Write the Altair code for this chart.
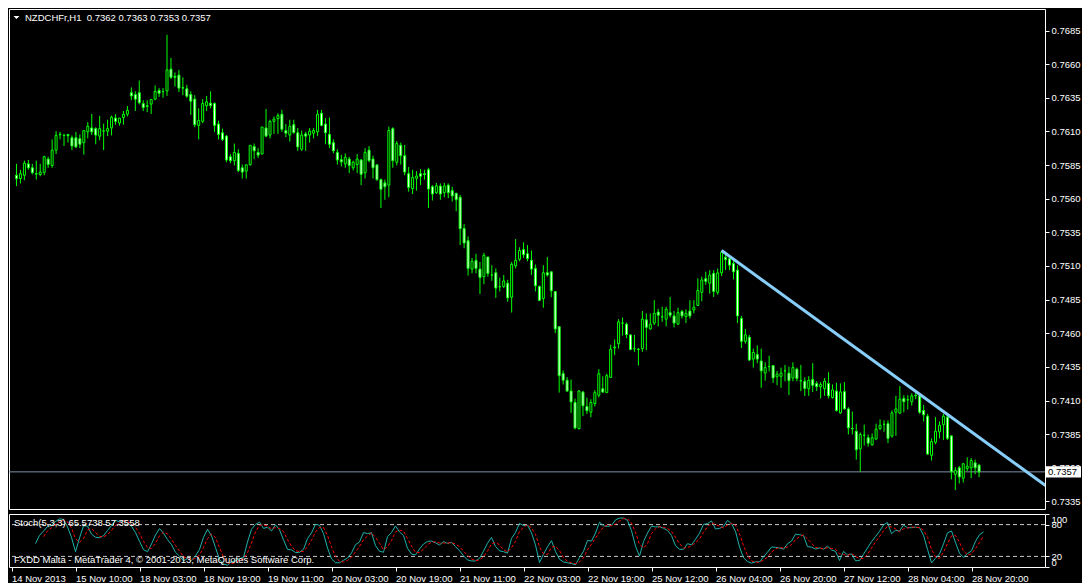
import altair as alt
import pandas as pd

symbol = "NZDCHFr,H1"

open_ = [
    0.75774, 0.75750, 0.75774, 0.75859, 0.75830, 0.75786, 0.75780, 0.75796, 0.75895, 0.75847,
    0.75961, 0.76075, 0.76070, 0.76078, 0.76053, 0.76053, 0.76046, 0.76017, 0.76097, 0.76126,
    0.76121, 0.76065, 0.76102, 0.76102, 0.76126, 0.76199, 0.76163, 0.76204, 0.76228, 0.76388,
    0.76374, 0.76388, 0.76308, 0.76291, 0.76303, 0.76340, 0.76405, 0.76396, 0.76401, 0.76563,
    0.76510, 0.76519, 0.76425, 0.76417, 0.76374, 0.76340, 0.76145, 0.76175, 0.76291, 0.76310,
    0.76308, 0.76155, 0.76090, 0.76065, 0.75912, 0.75883, 0.75937, 0.75830, 0.75805, 0.75852,
    0.75988, 0.75944, 0.75932, 0.76126, 0.76073, 0.76175, 0.76194, 0.76228, 0.76107, 0.76073,
    0.76150, 0.76090, 0.75968, 0.76082, 0.76073, 0.76087, 0.76097, 0.76235, 0.76155, 0.76078,
    0.76017, 0.75944, 0.75890, 0.75859, 0.75895, 0.75830, 0.75854, 0.75888, 0.75793, 0.75961,
    0.75895, 0.75852, 0.75742, 0.75718, 0.75701, 0.76121, 0.75871, 0.75997, 0.75920, 0.75786,
    0.75675, 0.75752, 0.75786, 0.75786, 0.75815, 0.75689, 0.75645, 0.75694, 0.75645, 0.75701,
    0.75660, 0.75640, 0.75611, 0.75378, 0.75288, 0.75077, 0.75142, 0.75077, 0.75021, 0.75167,
    0.75033, 0.75050, 0.74946, 0.74948, 0.74972, 0.74868, 0.75101, 0.75150, 0.75222, 0.75191,
    0.75142, 0.75082, 0.74948, 0.74858, 0.75050, 0.75057, 0.74911, 0.74649, 0.74300, 0.74251,
    0.74171, 0.74086, 0.73891, 0.74163, 0.74056, 0.74013, 0.74078, 0.74139, 0.74188, 0.74159,
    0.74272, 0.74491, 0.74523, 0.74675, 0.74668, 0.74588, 0.74486, 0.74481, 0.74486, 0.74700,
    0.74632, 0.74676, 0.74758, 0.74722, 0.74705, 0.74753, 0.74729, 0.74668, 0.74763, 0.74724,
    0.74765, 0.74773, 0.74807, 0.74904, 0.75006, 0.74972, 0.75045, 0.74904, 0.75049, 0.75165,
    0.75154, 0.75118, 0.75069, 0.74710, 0.74540, 0.74571, 0.74408, 0.74442, 0.74394, 0.74304,
    0.74353, 0.74360, 0.74277, 0.74280, 0.74321, 0.74304, 0.74268, 0.74333, 0.74248, 0.74243,
    0.74188, 0.74256, 0.74227, 0.74203, 0.74188, 0.74227, 0.74123, 0.74171, 0.74008, 0.74166,
    0.74038, 0.73892, 0.73872, 0.73741, 0.73843, 0.73824, 0.73770, 0.73814, 0.73892, 0.73923,
    0.73928, 0.73836, 0.74013, 0.74006, 0.74115, 0.74106, 0.74091, 0.74139, 0.74135, 0.74026,
    0.73984, 0.73693, 0.73790, 0.73868, 0.73921, 0.73977, 0.73838, 0.73552, 0.73600, 0.73523,
    0.73595, 0.73600, 0.73637, 0.73620,
]

high_ = [
    0.75859, 0.75815, 0.75883, 0.75888, 0.75859, 0.75883, 0.75859, 0.75920, 0.75912, 0.76041,
    0.76102, 0.76097, 0.76082, 0.76078, 0.76070, 0.76097, 0.76078, 0.76106, 0.76170, 0.76230,
    0.76131, 0.76216, 0.76158, 0.76187, 0.76218, 0.76228, 0.76199, 0.76252, 0.76289, 0.76427,
    0.76398, 0.76478, 0.76332, 0.76332, 0.76337, 0.76442, 0.76422, 0.76422, 0.76818, 0.76646,
    0.76539, 0.76558, 0.76502, 0.76446, 0.76398, 0.76369, 0.76272, 0.76340, 0.76364, 0.76398,
    0.76316, 0.76180, 0.76121, 0.76073, 0.75932, 0.76010, 0.75968, 0.75854, 0.75852, 0.75997,
    0.76010, 0.75976, 0.76133, 0.76267, 0.76187, 0.76211, 0.76235, 0.76260, 0.76155, 0.76187,
    0.76187, 0.76126, 0.76107, 0.76097, 0.76126, 0.76126, 0.76260, 0.76260, 0.76199, 0.76204,
    0.76041, 0.75968, 0.75927, 0.75937, 0.75912, 0.75883, 0.75932, 0.75895, 0.75976, 0.75992,
    0.75920, 0.75852, 0.75750, 0.75742, 0.76136, 0.76131, 0.76029, 0.76017, 0.76000, 0.75835,
    0.75815, 0.75805, 0.75820, 0.75815, 0.75830, 0.75701, 0.75718, 0.75713, 0.75718, 0.75713,
    0.75689, 0.75645, 0.75628, 0.75410, 0.75320, 0.75159, 0.75191, 0.75130, 0.75198, 0.75167,
    0.75106, 0.75082, 0.75014, 0.75033, 0.74997, 0.75130, 0.75300, 0.75239, 0.75276, 0.75256,
    0.75215, 0.75111, 0.74955, 0.75106, 0.75167, 0.75057, 0.74911, 0.74649, 0.74324, 0.74275,
    0.74256, 0.74115, 0.74178, 0.74171, 0.74122, 0.74110, 0.74178, 0.74333, 0.74280, 0.74300,
    0.74515, 0.74554, 0.74705, 0.74717, 0.74680, 0.74588, 0.74588, 0.74491, 0.74765, 0.74748,
    0.74748, 0.74846, 0.74782, 0.74797, 0.74797, 0.74870, 0.74765, 0.74790, 0.74773, 0.74778,
    0.74846, 0.74846, 0.75008, 0.75021, 0.75057, 0.75069, 0.75069, 0.75081, 0.75215, 0.75190,
    0.75178, 0.75142, 0.75106, 0.74729, 0.74632, 0.74588, 0.74486, 0.74510, 0.74486, 0.74384,
    0.74433, 0.74365, 0.74321, 0.74345, 0.74365, 0.74352, 0.74384, 0.74345, 0.74365, 0.74272,
    0.74281, 0.74378, 0.74244, 0.74237, 0.74268, 0.74310, 0.74220, 0.74232, 0.74227, 0.74237,
    0.74050, 0.74018, 0.73928, 0.73863, 0.73921, 0.73848, 0.73855, 0.73928, 0.73960, 0.73953,
    0.73953, 0.74026, 0.74135, 0.74208, 0.74140, 0.74140, 0.74154, 0.74164, 0.74154, 0.74067,
    0.74001, 0.73819, 0.73977, 0.73945, 0.74001, 0.74008, 0.73838, 0.73605, 0.73613, 0.73637,
    0.73678, 0.73673, 0.73661, 0.73630,
]

low_ = [
    0.75694, 0.75713, 0.75737, 0.75815, 0.75781, 0.75742, 0.75767, 0.75774, 0.75830, 0.75830,
    0.75932, 0.76041, 0.75992, 0.76017, 0.75961, 0.75976, 0.75976, 0.75927, 0.76048, 0.76073,
    0.76005, 0.76034, 0.75961, 0.76065, 0.76070, 0.76150, 0.76143, 0.76150, 0.76211, 0.76332,
    0.76252, 0.76301, 0.76252, 0.76243, 0.76230, 0.76332, 0.76357, 0.76350, 0.76364, 0.76490,
    0.76434, 0.76393, 0.76369, 0.76350, 0.76223, 0.76131, 0.76041, 0.76162, 0.76252, 0.76272,
    0.76097, 0.76041, 0.76029, 0.75871, 0.75864, 0.75847, 0.75798, 0.75750, 0.75750, 0.75847,
    0.75895, 0.75903, 0.75932, 0.76058, 0.76048, 0.76082, 0.76082, 0.76097, 0.76058, 0.76024,
    0.76082, 0.75956, 0.75956, 0.75956, 0.76017, 0.76048, 0.76065, 0.76138, 0.76005, 0.75976,
    0.75937, 0.75854, 0.75840, 0.75830, 0.75791, 0.75810, 0.75791, 0.75701, 0.75750, 0.75871,
    0.75750, 0.75733, 0.75531, 0.75592, 0.75611, 0.75830, 0.75847, 0.75854, 0.75774, 0.75652,
    0.75635, 0.75660, 0.75701, 0.75742, 0.75531, 0.75587, 0.75635, 0.75592, 0.75611, 0.75604,
    0.75579, 0.75507, 0.75256, 0.75232, 0.75028, 0.75045, 0.75045, 0.74892, 0.74965, 0.75021,
    0.74990, 0.74863, 0.74911, 0.74936, 0.74834, 0.74754, 0.75082, 0.75135, 0.75160, 0.75135,
    0.75033, 0.74911, 0.74839, 0.74790, 0.75021, 0.74868, 0.74601, 0.74159, 0.74219, 0.74163,
    0.74008, 0.73886, 0.73886, 0.73984, 0.74001, 0.73976, 0.74056, 0.74122, 0.74159, 0.74159,
    0.74270, 0.74438, 0.74486, 0.74583, 0.74564, 0.74474, 0.74462, 0.74360, 0.74462, 0.74474,
    0.74627, 0.74661, 0.74651, 0.74685, 0.74651, 0.74717, 0.74644, 0.74661, 0.74710, 0.74676,
    0.74710, 0.74748, 0.74802, 0.74838, 0.74960, 0.74894, 0.74870, 0.74887, 0.75025, 0.75070,
    0.75069, 0.75001, 0.74676, 0.74491, 0.74523, 0.74394, 0.74345, 0.74377, 0.74195, 0.74248,
    0.74316, 0.74231, 0.74214, 0.74195, 0.74243, 0.74141, 0.74243, 0.74243, 0.74170, 0.74134,
    0.74135, 0.74164, 0.74171, 0.74115, 0.74135, 0.74115, 0.74115, 0.74018, 0.74001, 0.74033,
    0.73848, 0.73848, 0.73661, 0.73571, 0.73766, 0.73758, 0.73766, 0.73807, 0.73880, 0.73868,
    0.73783, 0.73824, 0.73838, 0.74001, 0.74013, 0.74033, 0.74062, 0.74110, 0.74001, 0.73945,
    0.73698, 0.73654, 0.73775, 0.73819, 0.73807, 0.73807, 0.73515, 0.73435, 0.73484, 0.73491,
    0.73576, 0.73523, 0.73552, 0.73530,
]

close_ = [
    0.75749, 0.75786, 0.75864, 0.75830, 0.75793, 0.75783, 0.75798, 0.75912, 0.75854, 0.75961,
    0.76070, 0.76078, 0.76072, 0.76068, 0.75992, 0.75985, 0.76005, 0.76106, 0.76138, 0.76097,
    0.76073, 0.76121, 0.76104, 0.76121, 0.76206, 0.76175, 0.76199, 0.76228, 0.76257, 0.76364,
    0.76340, 0.76313, 0.76277, 0.76286, 0.76337, 0.76398, 0.76383, 0.76396, 0.76558, 0.76502,
    0.76502, 0.76422, 0.76422, 0.76362, 0.76325, 0.76150, 0.76182, 0.76308, 0.76320, 0.76292,
    0.76145, 0.76078, 0.76041, 0.75888, 0.75883, 0.75944, 0.75810, 0.75798, 0.75852, 0.75997,
    0.75956, 0.75924, 0.76133, 0.76065, 0.76175, 0.76192, 0.76218, 0.76116, 0.76087, 0.76138,
    0.76092, 0.75985, 0.76073, 0.76065, 0.76102, 0.76107, 0.76228, 0.76145, 0.76090, 0.76005,
    0.75956, 0.75888, 0.75874, 0.75907, 0.75847, 0.75871, 0.75895, 0.75781, 0.75944, 0.75883,
    0.75830, 0.75742, 0.75670, 0.75689, 0.76107, 0.75883, 0.76010, 0.75920, 0.75798, 0.75684,
    0.75757, 0.75769, 0.75767, 0.75780, 0.75672, 0.75635, 0.75696, 0.75635, 0.75694, 0.75645,
    0.75621, 0.75592, 0.75378, 0.75271, 0.75082, 0.75135, 0.75082, 0.75014, 0.75179, 0.75045,
    0.75033, 0.74936, 0.74946, 0.74989, 0.74863, 0.75113, 0.75142, 0.75215, 0.75184, 0.75155,
    0.75077, 0.74953, 0.74844, 0.75050, 0.75033, 0.74916, 0.74632, 0.74285, 0.74251, 0.74171,
    0.74090, 0.73896, 0.74171, 0.74061, 0.74025, 0.74086, 0.74159, 0.74299, 0.74163, 0.74285,
    0.74481, 0.74498, 0.74685, 0.74676, 0.74591, 0.74479, 0.74486, 0.74479, 0.74705, 0.74644,
    0.74668, 0.74748, 0.74734, 0.74722, 0.74778, 0.74734, 0.74676, 0.74753, 0.74729, 0.74748,
    0.74729, 0.74793, 0.74918, 0.74996, 0.74986, 0.75033, 0.74911, 0.75049, 0.75203, 0.75147,
    0.75106, 0.75057, 0.74729, 0.74540, 0.74588, 0.74401, 0.74457, 0.74408, 0.74321, 0.74345,
    0.74352, 0.74268, 0.74296, 0.74304, 0.74321, 0.74248, 0.74345, 0.74263, 0.74246, 0.74190,
    0.74251, 0.74213, 0.74203, 0.74220, 0.74244, 0.74135, 0.74179, 0.74026, 0.74164, 0.74038,
    0.73897, 0.73890, 0.73734, 0.73848, 0.73843, 0.73783, 0.73824, 0.73887, 0.73916, 0.73923,
    0.73819, 0.74008, 0.74038, 0.74110, 0.74091, 0.74105, 0.74135, 0.74136, 0.74013, 0.73994,
    0.73702, 0.73795, 0.73872, 0.73916, 0.73984, 0.73819, 0.73571, 0.73581, 0.73532, 0.73630,
    0.73612, 0.73654, 0.73600, 0.73570,
]

time_labels = ["14 Nov 2013", "15 Nov 10:00", "18 Nov 03:00", "18 Nov 19:00",
               "19 Nov 11:00", "20 Nov 03:00", "20 Nov 19:00", "21 Nov 11:00",
               "22 Nov 03:00", "22 Nov 19:00", "25 Nov 12:00", "26 Nov 04:00",
               "26 Nov 20:00", "27 Nov 12:00", "28 Nov 04:00", "28 Nov 20:00"]
label_bars = [0, 16, 32, 48, 64, 80, 96, 112, 128, 144, 160, 176, 192, 208, 224, 240]
price_ticks = [0.7335, 0.7360, 0.7385, 0.7410, 0.7435, 0.7460, 0.7485, 0.7510,
               0.7535, 0.7560, 0.7585, 0.7610, 0.7635, 0.7660, 0.7685]
stoch_ticks = [0, 20, 80, 100]
stoch_levels = [20, 80]
trend_bar = [178, 262]
trend_price = [0.75215, 0.73421]
last_price = 0.7357
stoch_title = "Stoch(5,3,3) 65.5738 57.3558"
credit = "FXDD Malta - MetaTrader 4, \u00a9 2001-2013, MetaQuotes Software Corp."

W, H1, H2 = 1036, 500, 53
FONT = "Liberation Sans"
GREEN = "#00ff00"

n = len(open_)
df = pd.DataFrame({"bar": list(range(n)), "open": open_, "high": high_,
                   "low": low_, "close": close_})
df["lo"] = df[["open", "close"]].min(axis=1)
df["hi"] = df[["open", "close"]].max(axis=1)
df["kind"] = ["bull" if c >= o else "bear" for o, c in zip(open_, close_)]
ll = df["low"].rolling(5).min()
hh = df["high"].rolling(5).max()
df["k"] = 100 * (df["close"] - ll).rolling(3).sum() / (hh - ll).rolling(3).sum()
df["d"] = df["k"].rolling(3).mean()

header = (symbol + "\u00a0\u00a0" + " ".join(f"{v:.4f}" for v in
          (open_[-1], high_[-1], low_[-1], close_[-1])))

xs = alt.Scale(domain=[-0.625, W / 4 - 0.625], nice=False, zero=False)
ys = alt.Scale(domain=[0.73294, 0.77010], nice=False, zero=False)
ss = alt.Scale(domain=[0, 100], nice=False, zero=False)

price_axis = alt.Axis(orient="right", values=price_ticks, format=".4f", title=None,
                      tickSize=4, labelPadding=2, domain=False, grid=False)
stoch_axis = alt.Axis(orient="right", values=stoch_ticks, title=None, tickSize=4,
                      labelPadding=2, labelFlush=True, labelOverlap=False,
                      domain=False, grid=False)
label_expr = ("[" + ",".join(f"'{s}'" for s in time_labels) + "][indexof(["
              + ",".join(str(b) for b in label_bars) + "], datum.value)]")
time_axis = alt.Axis(values=label_bars, labelExpr=label_expr, title=None, tickSize=4,
                     labelAlign="left", labelPadding=2, labelFlush=False,
                     labelOverlap=False, domain=False, grid=False)


def px(field):
    return alt.X(field, type="quantitative", scale=xs, axis=None)


def py(field):
    return alt.Y(field, type="quantitative", scale=ys, axis=price_axis)


def sx(field):
    return alt.X(field, type="quantitative", scale=xs, axis=time_axis)


def sy(field):
    return alt.Y(field, type="quantitative", scale=ss, axis=stoch_axis)


last_df = pd.DataFrame({"p": [last_price], "t": [f"{last_price:.4f}"]})
price_line = alt.Chart(last_df).mark_rule(color="#8090a8", strokeWidth=1).encode(y=py("p"))

wicks = alt.Chart(df).mark_rule(color=GREEN, strokeWidth=1).encode(
    x=px("bar"), y=py("low"), y2="high")

bodies = alt.Chart(df).mark_bar(size=2, stroke=GREEN, strokeWidth=1, orient="vertical").encode(
    x=px("bar"), y=py("lo"), y2="hi",
    fill=alt.Fill("kind:N", scale=alt.Scale(domain=["bull", "bear"], range=["#000000", "#ffffff"]),
                  legend=None))

trend_df = pd.DataFrame({"tb": trend_bar, "tp": trend_price})
trend = alt.Chart(trend_df).mark_line(color="#87cefa", strokeWidth=3, clip=True).encode(
    x=px("tb"), y=py("tp"))

tag = alt.Chart(last_df).mark_point(
    shape="M-1,-0.32L1,-0.32L1,0.32L-1,0.32Z", size=1225, filled=True,
    color="#ffffff", opacity=1).encode(x=alt.value(W + 18.5), y=py("p"))
tag_text = alt.Chart(last_df).mark_text(
    align="left", baseline="middle", color="#000000", font=FONT, fontSize=9.5).encode(
    x=alt.value(W + 3), y=py("p"), text="t:N")

head_df = pd.DataFrame({"t": [header]})
tri = alt.Chart(head_df).mark_point(
    shape="M-1,-0.5L1,-0.5L0,0.5Z", size=36, filled=True, color="#ffffff", opacity=1).encode(
    x=alt.value(7.5), y=alt.value(8.5))
head = alt.Chart(head_df).mark_text(
    align="left", baseline="middle", color="#ffffff", font=FONT, fontSize=9.5).encode(
    x=alt.value(16), y=alt.value(8.5), text="t:N")

price_panel = alt.layer(price_line, wicks, bodies, trend, tag, tag_text, tri, head).properties(
    width=W, height=H1)

lv_df = pd.DataFrame({"lv": stoch_levels})
levels = alt.Chart(lv_df).mark_rule(color="#c8c8c8", strokeDash=[4, 3], strokeWidth=1).encode(
    y=sy("lv"))
kline = alt.Chart(df).mark_line(color="#20b2aa", strokeWidth=1).encode(x=sx("bar"), y=sy("k"))
dline = alt.Chart(df).mark_line(color="#ff0000", strokeWidth=1, strokeDash=[3, 2]).encode(
    x=sx("bar"), y=sy("d"))
st_df = pd.DataFrame({"t": [stoch_title]})
st_text = alt.Chart(st_df).mark_text(
    align="left", baseline="middle", color="#ffffff", font=FONT, fontSize=9.5).encode(
    x=alt.value(5), y=alt.value(8.5), text="t:N")
cr_df = pd.DataFrame({"t": [credit]})
cr_text = alt.Chart(cr_df).mark_text(
    align="left", baseline="middle", color="#ffffff", font=FONT, fontSize=9.5).encode(
    x=alt.value(5), y=alt.value(H2 - 7), text="t:N")

stoch_panel = alt.layer(levels, kline, dline, st_text, cr_text).properties(width=W, height=H2)

chart = alt.vconcat(price_panel, stoch_panel, spacing=3).properties(
    background="#000000", padding=0
).configure_view(
    stroke="#ffffff", strokeWidth=1, fill="#000000"
).configure_axis(
    labelFont=FONT, labelFontSize=9.5, labelColor="#ffffff", tickColor="#ffffff",
    domain=False, grid=False
)

chart.save("out.html", embed_options={"renderer": "svg", "actions": False})
